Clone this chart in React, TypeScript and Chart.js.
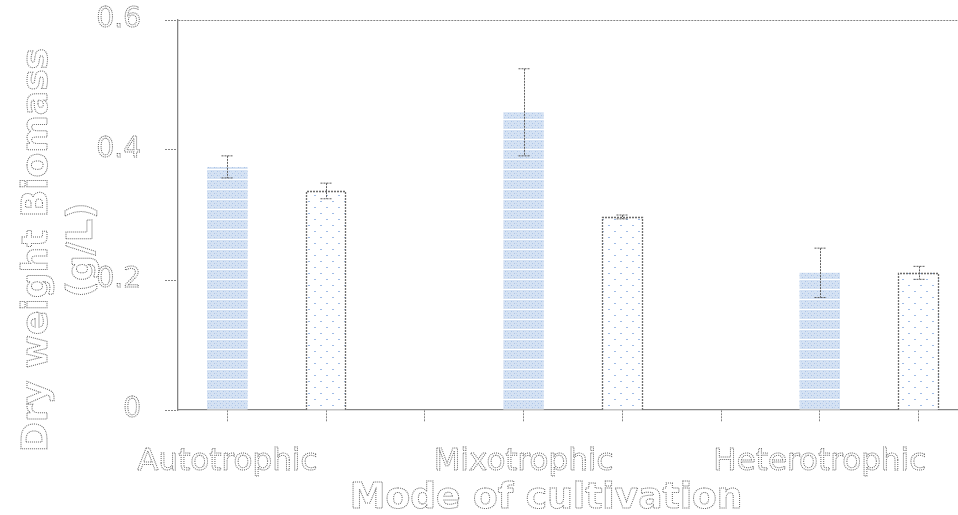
import React, { useEffect, useRef } from 'react';
import { Chart, registerables } from 'chart.js';

Chart.register(...registerables);

const categories = ['Autotrophic', 'Mixotrophic', 'Heterotrophic'];
const seriesA = [0.374, 0.458, 0.211];
const errorsA = [0.017, 0.067, 0.038];
const seriesB = [0.337, 0.297, 0.211];
const errorsB = [0.012, 0.003, 0.01];
const yTicks = [0, 0.2, 0.4, 0.6];
const yTickLabels = ['0', '0.2', '0.4', '0.6'];
const xTickSlots = [0, 1, 2, 3, 4, 5, 6, 7];
const yTitle = ['Dry weight Biomass', '(g/L)'];
const xTitle = 'Mode of cultivation';

const GRAY = '#858585';
const TEXT = '#6a6a6a';

function makeBluePattern(): CanvasPattern | string {
  const c = document.createElement('canvas');
  c.width = 6;
  c.height = 10;
  const g = c.getContext('2d');
  if (!g) return '#d3e0f2';
  g.fillStyle = '#d5e2f3';
  g.fillRect(0, 0, 6, 10);
  g.fillStyle = '#aac3e6';
  [[1, 1], [4, 3], [1, 5], [4, 7]].forEach(([x, y]) => g.fillRect(x, y, 1, 1));
  g.fillStyle = '#c2d4ee';
  [[3, 1], [0, 3], [3, 5], [0, 7]].forEach(([x, y]) => g.fillRect(x, y, 1, 1));
  g.fillStyle = '#ffffff';
  g.fillRect(0, 9, 6, 1);
  return g.createPattern(c, 'repeat') || '#d3e0f2';
}

function makeWhitePattern(): CanvasPattern | string {
  const c = document.createElement('canvas');
  c.width = 12;
  c.height = 12;
  const g = c.getContext('2d');
  if (!g) return '#ffffff';
  g.fillStyle = '#ffffff';
  g.fillRect(0, 0, 12, 12);
  g.fillStyle = '#9fbbe6';
  g.fillRect(2, 3, 2, 1);
  g.fillRect(8, 9, 2, 1);
  return g.createPattern(c, 'repeat') || '#ffffff';
}

function dottedText(ctx: CanvasRenderingContext2D, text: string, x: number, y: number) {
  ctx.strokeText(text, x, y);
}

const overlayPlugin = {
  id: 'overlay',
  afterDatasetsDraw(chart: any) {
    const ctx: CanvasRenderingContext2D = chart.ctx;
    const yScale = chart.scales.y;
    ctx.save();
    // dashed border on white bars
    const metaB = chart.getDatasetMeta(1);
    ctx.setLineDash([2, 1]);
    ctx.strokeStyle = '#6e6e6e';
    ctx.lineWidth = 1.3;
    metaB.data.forEach((el: any) => {
      const p = el.getProps(['x', 'y', 'base', 'width'], true);
      const l = Math.round(p.x - p.width / 2) + 0.5;
      const r = Math.round(p.x + p.width / 2) - 0.5;
      const t = Math.round(p.y) + 0.5;
      const b = Math.round(p.base);
      ctx.beginPath();
      ctx.moveTo(l, b);
      ctx.lineTo(l, t);
      ctx.lineTo(r, t);
      ctx.lineTo(r, b);
      ctx.stroke();
    });
    // error bars
    const errs = [errorsA, errorsB];
    const vals = [seriesA, seriesB];
    ctx.strokeStyle = '#5e5e5e';
    ctx.lineWidth = 1;
    ctx.setLineDash([2, 1]);
    [0, 1].forEach((d) => {
      const meta = chart.getDatasetMeta(d);
      meta.data.forEach((el: any, i: number) => {
        const x = Math.round(el.x) + 0.5;
        const top = yScale.getPixelForValue(vals[d][i] + errs[d][i]);
        const bot = yScale.getPixelForValue(vals[d][i] - errs[d][i]);
        ctx.beginPath();
        ctx.moveTo(x, top);
        ctx.lineTo(x, bot);
        ctx.moveTo(x - 6, top);
        ctx.lineTo(x + 6, top);
        ctx.moveTo(x - 6, bot);
        ctx.lineTo(x + 6, bot);
        ctx.stroke();
      });
    });
    ctx.restore();
  },
  afterDraw(chart: any) {
    const ctx: CanvasRenderingContext2D = chart.ctx;
    const xScale = chart.scales.x;
    const yScale = chart.scales.y;
    ctx.save();
    ctx.setLineDash([1, 1]);
    ctx.lineWidth = 1;
    ctx.strokeStyle = TEXT;

    // y tick labels
    ctx.font = '28px "DejaVu Sans"';
    ctx.textAlign = 'right';
    ctx.textBaseline = 'middle';
    yTicks.forEach((v, i) => {
      dottedText(ctx, yTickLabels[i], 141, yScale.getPixelForValue(v));
    });

    // x category labels
    ctx.font = '31px "DejaVu Sans"';
    ctx.textAlign = 'center';
    ctx.textBaseline = 'alphabetic';
    categories.forEach((c, i) => {
      dottedText(ctx, c, xScale.getPixelForValue(i * 3 + 0.5), 470);
    });

    // x title
    ctx.font = 'bold 36px "DejaVu Sans"';
    ctx.textAlign = 'center';
    ctx.textBaseline = 'alphabetic';
    dottedText(ctx, xTitle, 546, 508);

    // y title
    const baselines = [47, 92];
    yTitle.forEach((line, i) => {
      ctx.save();
      ctx.translate(baselines[i], 250);
      ctx.rotate(-Math.PI / 2);
      dottedText(ctx, line, 0, 0);
      ctx.restore();
    });
    ctx.restore();
  },
};

export default function App() {
  const ref = useRef<HTMLCanvasElement | null>(null);

  useEffect(() => {
    document.body.style.margin = '0';
    const canvas = ref.current;
    if (!canvas) return;
    const blue = makeBluePattern();
    const white = makeWhitePattern();
    const chart = new Chart(canvas, {
      type: 'bar',
      data: {
        datasets: [
          {
            label: 'A',
            data: categories.map((_, i) => ({ x: i * 3 + 0.5, y: seriesA[i] })),
            backgroundColor: blue as any,
            borderWidth: 0,
            grouped: false,
            barPercentage: 0.41,
            categoryPercentage: 1,
          },
          {
            label: 'B',
            data: categories.map((_, i) => ({ x: i * 3 + 1.5, y: seriesB[i] })),
            backgroundColor: white as any,
            borderWidth: 0,
            grouped: false,
            barPercentage: 0.41,
            categoryPercentage: 1,
          },
        ] as any,
      },
      options: {
        animation: false,
        responsive: true,
        maintainAspectRatio: false,
        layout: { padding: { left: 165, top: 20, right: 0, bottom: 93 } },
        plugins: { legend: { display: false }, tooltip: { enabled: false } },
        scales: {
          x: {
            type: 'linear',
            min: 0,
            max: 7.9,
            offset: false,
            afterBuildTicks: (s: any) => {
              s.ticks = xTickSlots.map((v) => ({ value: v }));
            },
            ticks: { display: false },
            grid: {
              drawOnChartArea: false,
              drawTicks: true,
              tickLength: 12,
              tickColor: GRAY,
              tickBorderDash: [2, 1],
              color: GRAY,
            },
            border: { display: true, color: GRAY, width: 1.3, dash: [2, 1] },
          },
          y: {
            type: 'linear',
            min: 0,
            max: 0.6,
            afterBuildTicks: (s: any) => {
              s.ticks = yTicks.map((v) => ({ value: v }));
            },
            ticks: { display: false },
            grid: {
              drawOnChartArea: true,
              drawTicks: true,
              tickLength: 13,
              tickColor: GRAY,
              tickBorderDash: [2, 1],
              color: (ctx: any) => (ctx.tick && ctx.tick.value === 0.6 ? GRAY : 'rgba(0,0,0,0)'),
            },
            border: { display: true, color: GRAY, width: 1.3, dash: [2, 1] },
          },
        } as any,
      },
      plugins: [overlayPlugin],
    });
    return () => chart.destroy();
  }, []);

  return (
    <div style={{ width: 958, height: 515, position: 'relative' }}>
      <canvas ref={ref} />
    </div>
  );
}
